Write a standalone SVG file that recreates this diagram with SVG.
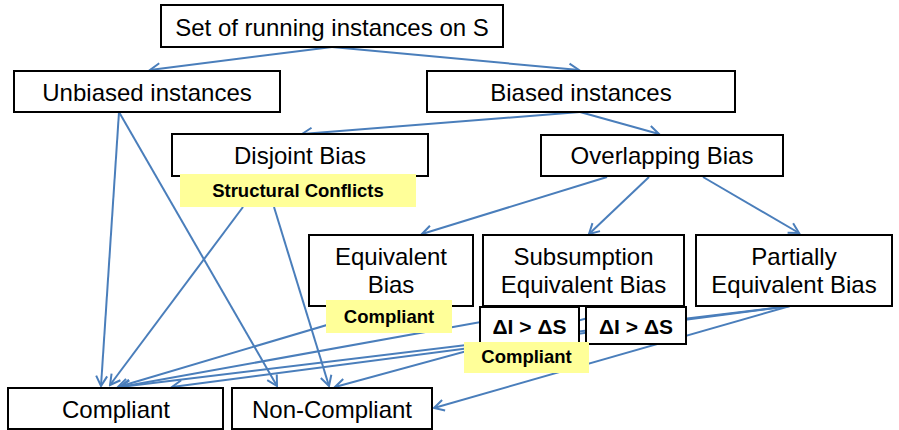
<svg xmlns="http://www.w3.org/2000/svg" width="899" height="430" viewBox="0 0 899 430">
<style>
.box{fill:#fff;stroke:#000;stroke-width:2}
.lbl{fill:#ffff99;stroke:none}
.t{font-family:"Liberation Sans",Arial,sans-serif;font-size:24px;fill:#000;text-anchor:middle}
.b{font-family:"Liberation Sans",Arial,sans-serif;font-size:18.5px;font-weight:bold;fill:#000;text-anchor:middle}
.d{font-family:"Liberation Sans",Arial,sans-serif;font-size:21px;font-weight:bold;fill:#000;text-anchor:middle}
.c{fill:none;stroke:#4a7ebb;stroke-width:2;marker-end:url(#ah)}
</style>
<defs>
<marker id="ah" viewBox="-12 -7 14 14" refX="0" refY="0" markerWidth="14" markerHeight="14" markerUnits="userSpaceOnUse" orient="auto">
<path d="M-10,-5.5 L0,0 L-10,5.5" fill="none" stroke="#4a7ebb" stroke-width="2"/>
</marker>
</defs>
<rect width="899" height="430" fill="#fff"/>
<g id="connectors">
<path class="c" d="M332,47 L150,70"/>
<path class="c" d="M332,47 L579,70"/>
<path class="c" d="M580,112 L302,134"/>
<path class="c" d="M580,112 L659,134"/>
<path class="c" d="M607,177 L422,234"/>
<path class="c" d="M649,177 L589,234"/>
<path class="c" d="M703,177 L799,233"/>
<path class="c" d="M119,112 L101,386"/>
<path class="c" d="M119,112 L277,386"/>
<path class="c" d="M243,207 L110,385"/>
<path class="c" d="M274,207 L329,386"/>
<path class="c" d="M391,306 L118,387"/>
<path class="c" d="M570,306 L120,387"/>
<path class="c" d="M790,306 L120,387"/>
<path class="c" d="M790,306 L172,387"/>
<path class="c" d="M632,306 L335,387"/>
<path class="c" d="M790,306 L434,408"/>
</g>
<g id="set">
<rect class="box" x="161" y="5" width="342" height="42"/>
<text class="t" x="332" y="36">Set of running instances on S</text>
</g>
<g id="unbiased">
<rect class="box" x="14" y="71" width="266" height="41"/>
<text class="t" x="147" y="101">Unbiased instances</text>
</g>
<g id="biased">
<rect class="box" x="427" y="71" width="308" height="41"/>
<text class="t" x="581" y="101">Biased instances</text>
</g>
<g id="disjoint">
<rect class="box" x="172" y="134" width="256" height="42"/>
<text class="t" x="300" y="164">Disjoint Bias</text>
</g>
<g id="overlapping">
<rect class="box" x="541" y="135" width="242" height="41"/>
<text class="t" x="662" y="164">Overlapping Bias</text>
</g>
<g id="equivalent">
<rect class="box" x="309" y="235" width="164" height="71"/>
<text class="t" x="391" y="265">Equivalent</text>
<text class="t" x="391" y="293">Bias</text>
</g>
<g id="subsumption">
<rect class="box" x="483" y="235" width="201" height="71"/>
<text class="t" x="583.5" y="265">Subsumption</text>
<text class="t" x="583.5" y="293">Equivalent Bias</text>
</g>
<g id="partially">
<rect class="box" x="696" y="235" width="196" height="71"/>
<text class="t" x="794" y="265">Partially</text>
<text class="t" x="794" y="293">Equivalent Bias</text>
</g>
<g id="cond1">
<rect class="box" x="480" y="307" width="99" height="37"/>
<text class="d" x="529.5" y="334">ΔI &gt; ΔS</text>
</g>
<g id="cond2">
<rect class="box" x="586" y="307" width="100" height="37"/>
<text class="d" x="636" y="334">ΔI &gt; ΔS</text>
</g>
<g id="compliant">
<rect class="box" x="8" y="388" width="215" height="41"/>
<text class="t" x="116" y="418">Compliant</text>
</g>
<g id="noncompliant">
<rect class="box" x="232" y="388" width="200" height="41"/>
<text class="t" x="332" y="418">Non-Compliant</text>
</g>
<g id="structural-label">
<rect class="lbl" x="180" y="174" width="236" height="33"/>
<text class="b" x="298" y="197">Structural Conflicts</text>
</g>
<g id="compliant-label1">
<rect class="lbl" x="326" y="300" width="126" height="33"/>
<text class="b" x="389" y="323">Compliant</text>
</g>
<g id="compliant-label2">
<rect class="lbl" x="464" y="342" width="125" height="31"/>
<text class="b" x="526.5" y="363">Compliant</text>
</g>
</svg>
